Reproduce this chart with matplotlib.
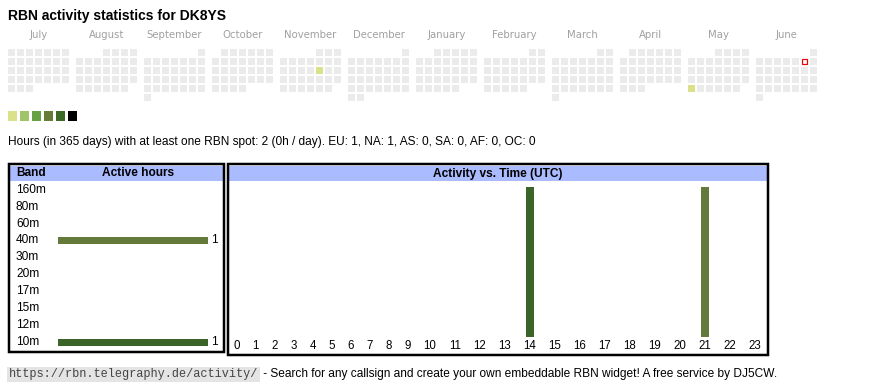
"""
RBN activity widget for DK8YS, redrawn with matplotlib.
Calendar of active days on top, then band table and hour-of-day table.
"""
import datetime as dt
import numpy as np
import matplotlib
matplotlib.use("Agg")
import matplotlib.pyplot as plt
from matplotlib.patches import Rectangle
from matplotlib.transforms import blended_transform_factory

plt.rcParams["font.family"] = ["Liberation Sans", "DejaVu Sans"]

CALLSIGN = "DK8YS"
TODAY = "2025-06-07"
FIRST_MONTH = (2024, 7)
MONTH_NAMES = ["January", "February", "March", "April", "May", "June", "July",
               "August", "September", "October", "November", "December"]
ACTIVE_DAYS = {"2024-11-15": 1, "2025-05-26": 1}      # date -> colour level
LEVEL_COLORS = ["#d9e28a", "#9fc46a", "#68a045", "#677b39", "#3c6a25", "#000000"]

BANDS = ["160m", "80m", "60m", "40m", "30m", "20m", "17m", "15m", "12m", "10m"]
BAND_HOURS = [0, 0, 0, 1, 0, 0, 0, 0, 0, 1]
BAND_COLORS = {"40m": "#647a3a", "10m": "#3b6427"}

HOURS = list(range(24))
HOURS_40M = [0, 0, 0, 0, 0, 0, 0, 0, 0, 0, 0, 0, 0, 0, 0, 0, 0, 0, 0, 0, 0, 1, 0, 0]
HOURS_10M = [0, 0, 0, 0, 0, 0, 0, 0, 0, 0, 0, 0, 0, 0, 1, 0, 0, 0, 0, 0, 0, 0, 0, 0]
HOURS_BY_BAND = {"40m": HOURS_40M, "10m": HOURS_10M}

SUMMARY = "Hours (in 365 days) with at least one RBN spot: 2 (0h / day). EU: 1, NA: 1, AS: 0, SA: 0, AF: 0, OC: 0"
URL = "https://rbn.telegraphy.de/activity/"
FOOTER = " - Search for any callsign and create your own embeddable RBN widget! A free service by DJ5CW."

HEAD_BG = "#aabbff"
W, H = 870, 390
PX = 0.72  # points per pixel at dpi 100

fig = plt.figure(figsize=(W / 100, H / 100), dpi=100)
bg = fig.add_axes([0, 0, 1, 1])
bg.set_xlim(0, W)
bg.set_ylim(H, 0)
bg.axis("off")

bg.text(8, 16, f"RBN activity statistics for {CALLSIGN}", fontsize=10.0,
        fontweight="bold", va="center")

# --- calendar: one block per month, rows = weeks, cols = weekdays (Mon first)
today = dt.date.fromisoformat(TODAY)
for k in range(12):
    yr, mo = divmod(FIRST_MONTH[1] - 1 + k, 12)
    yr += FIRST_MONTH[0]
    mo += 1
    first = dt.date(yr, mo, 1)
    bx = 8 + 68 * k
    bg.text(bx + 30.5, 35, MONTH_NAMES[mo - 1], fontsize=7.3, color="#a0a0a0",
            family="DejaVu Sans", ha="center", va="center")
    d = first
    while d.month == mo:
        row = (d.day - 1 + first.weekday()) // 7
        x, y = bx + 9 * d.weekday(), 49 + 9 * row
        lvl = ACTIVE_DAYS.get(d.isoformat())
        if d == today:
            bg.add_patch(Rectangle((x + 0.6, y + 0.6), 5.8, 5.8, facecolor="white",
                                   edgecolor="#ee0000", lw=1.2 * PX))
        else:
            face = LEVEL_COLORS[lvl - 1] if lvl else "#ebebeb"
            bg.add_patch(Rectangle((x, y), 7, 7, facecolor=face, lw=0))
        d += dt.timedelta(days=1)

for i, c in enumerate(LEVEL_COLORS):
    bg.add_patch(Rectangle((8 + 12 * i, 111), 9.5, 9.5, facecolor=c, lw=0))

bg.text(8, 142, SUMMARY, fontsize=8.6, va="center")

# --- table frames and headers
bg.add_patch(Rectangle((10, 166), 213, 15, facecolor=HEAD_BG, lw=0))
bg.add_patch(Rectangle((229, 166), 538, 15, facecolor=HEAD_BG, lw=0))
bg.add_patch(Rectangle((9.25, 164.2), 214.8, 187.3, fill=False, edgecolor="black", lw=2.5 * PX))
bg.add_patch(Rectangle((228, 164.2), 540.5, 190.3, fill=False, edgecolor="black", lw=2.5 * PX))
bg.text(16, 173.5, "Band", fontsize=8.6, fontweight="bold", va="center")
bg.text(138, 173.5, "Active hours", fontsize=8.6, fontweight="bold", ha="center", va="center")
bg.text(497.5, 173.5, "Activity vs. Time (UTC)", fontsize=8.6, fontweight="bold",
        ha="center", va="center")

# --- active hours per band
band_ax = fig.add_axes([58 / W, 1 - 350.8 / H, 150 / W, 169.7 / H])
band_ax.set_facecolor("none")
ypos = np.arange(len(BANDS))
band_ax.barh(ypos, BAND_HOURS, height=0.38,
             color=[BAND_COLORS.get(b, "#647a3a") for b in BANDS])
band_ax.set_xlim(0, max(BAND_HOURS))
band_ax.set_ylim(len(BANDS) - 0.5, -0.5)
band_ax.axis("off")
lab_tr = blended_transform_factory(bg.transData, band_ax.transData)
for i, (b, v) in enumerate(zip(BANDS, BAND_HOURS)):
    band_ax.text(16, i, b, transform=lab_tr, fontsize=8.6, va="center")
    if v:
        band_ax.annotate(str(v), (v, i), xytext=(2.5, 0), textcoords="offset points",
                         fontsize=8.6, va="center", annotation_clip=False)

# --- activity vs hour; table cells widen with the label's digit count
widths = np.array([13 + 6 * len(str(h)) for h in HOURS])
edges = np.concatenate([[0], np.cumsum(widths)])
centers = edges[:-1] + widths / 2
hr_ax = fig.add_axes([227.3 / W, 1 - 337 / H, edges[-1] / W, 150 / H])
hr_ax.set_facecolor("none")
bottom = np.zeros(len(HOURS))
for b in BANDS:
    if b in HOURS_BY_BAND:
        vals = np.array(HOURS_BY_BAND[b])
        hr_ax.bar(centers, vals, width=8, bottom=bottom, color=BAND_COLORS[b])
        bottom += vals
hr_ax.set_xlim(0, edges[-1])
hr_ax.set_ylim(0, bottom.max())
hr_ax.set_xticks(centers, [str(h) for h in HOURS])
hr_ax.set_yticks([])
hr_ax.tick_params(axis="x", length=0, pad=2.5, labelsize=8.3)
for s in hr_ax.spines.values():
    s.set_visible(False)

# --- footer
url = bg.text(9, 374.5, URL, family="Liberation Mono", fontsize=8.6, color="#444444",
              va="center", bbox=dict(facecolor="#e4e4e4", edgecolor="none", pad=1.2))
bg.annotate(FOOTER, xy=(1, 0.5), xycoords=url, xytext=(1.5, 0), textcoords="offset points",
            fontsize=8.6, va="center")

fig.savefig("out.png", dpi=100)
